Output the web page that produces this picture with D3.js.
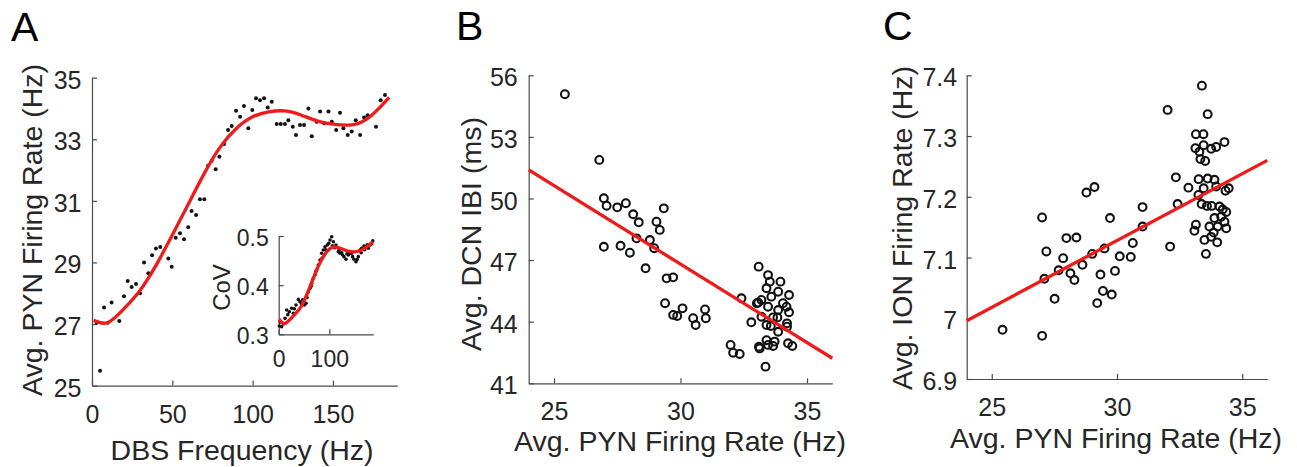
<!DOCTYPE html>
<html>
<head>
<meta charset="utf-8">
<script src="https://cdn.jsdelivr.net/npm/d3@7"></script>
<style>
  html, body { margin: 0; padding: 0; background: #fff; }
  svg { display: block; font-family: "Liberation Sans", Arial, sans-serif; }
</style>
</head>
<body>
<svg id="fig" width="1297" height="467"></svg>
<script>
// ---- data ----
// Panel A: DBS frequency (Hz) vs avg PYN firing rate (Hz)
const dbsPoints = [
  [2.9,27.04],[5,25.48],[7.5,27.54],[9.8,27.04],[12.2,27.7],[17,27.1],[19.9,27.9],[22.2,28.4],
  [24.7,28.2],[27.4,28.3],[29.9,28.0],[32.4,29.0],[35.1,28.65],[37.4,29.23],[39.8,29.45],[42.5,29.5],
  [47.5,29.13],[49.6,28.86],[52.1,29.8],[54.8,29.95],[57.3,29.75],[59.9,30.14],[62,30.67],[64.8,30.54],
  [67.2,31.05],[69.9,31.05],[72.2,32.14],[74.5,32.3],[77,32.03],[79.3,32.43],[82.2,32.85],[84.7,33.3],
  [87,33.43],[89.7,33.93],[92.2,33.73],[94.6,34.08],[97.3,33.36],[99.8,33.95],[102.1,34.33],[104.6,34.27],
  [107.1,34.33],[109.4,34.03],[111.9,34.22],[115,33.5],[117.5,33.5],[120.1,33.5],[122.2,33.62],[125,33.41],
  [127,33.14],[129.5,33.46],[132,33.46],[134.7,34.0],[136.8,33.1],[139.9,33.57],[142,33.9],[144.5,33.52],
  [147.2,33.9],[149.3,33.57],[152,33.3],[154.4,33.86],[156.5,33.36],[159.2,33.14],[161.7,33.25],[164.2,33.62],
  [166.9,33.14],[169.4,33.71],[171.6,33.78],[176.8,33.41],[179.7,34.27],[182.4,34.44]
];
const dbsFit = [
  [1,27.12],[10,27.05],[20,27.5],[30,28.1],[40,28.92],[50,29.89],[60,30.9],[70,31.9],[80,32.76],
  [90,33.36],[100,33.73],[110,33.89],[120,33.92],[130,33.79],[140,33.6],[150,33.49],[160,33.46],
  [170,33.62],[180,34.08],[185,34.36]
];
const xTicksA = [0, 50, 100, 150];
const yTicksA = [25, 27, 29, 31, 33, 35];

// Panel A inset: DBS frequency vs CoV
const covPoints = [
  [1.2,0.317],[3,0.325],[5.8,0.3155],[9.2,0.321],[12.5,0.3325],[15.8,0.3494],[18,0.34],[21,0.346],
  [25.6,0.3529],[28.9,0.3427],[31,0.352],[34.2,0.3596],[38.8,0.371],[42.1,0.3663],[45,0.362],[47.4,0.37],
  [50.7,0.3596],[54,0.363],[56,0.375],[58.6,0.3867],[61.9,0.3935],[64,0.398],[65.2,0.4037],[68.4,0.414],
  [71.7,0.4206],[73,0.427],[75,0.4308],[78.3,0.441],[81.6,0.4512],[84.9,0.4648],[86,0.455],[88.2,0.4715],
  [91.5,0.4782],[93,0.472],[96.1,0.4817],[99,0.485],[101.4,0.4919],[104.7,0.4986],[106,0.48],[108,0.4884],
  [111,0.476],[113.2,0.4817],[117.8,0.468],[119,0.471],[121.1,0.4648],[124.4,0.466],[126,0.462],[129,0.458],
  [133,0.4526],[135,0.464],[137.6,0.4613],[140.9,0.4648],[144.2,0.4648],[146,0.458],[148.8,0.4526],
  [152.8,0.4477],[155,0.452],[157.4,0.458],[160.7,0.4715],[163,0.466],[164,0.475],[168.6,0.4797],
  [170,0.472],[172.5,0.4782],[175,0.482],[177.1,0.475],[180.4,0.4817],[183.7,0.4837],[186,0.49]
];
const covFit = [
  [1,0.3305],[12.5,0.322],[29,0.3375],[45,0.3576],[62,0.397],[78,0.4376],[95,0.468],[111,0.478],
  [128,0.4725],[144,0.468],[161,0.470],[174,0.478],[186,0.488]
];
const xTicksInset = [0, 100];
const yTicksInset = [0.3, 0.4, 0.5];

// Panel B: avg PYN firing rate vs avg DCN IBI (ms)
const dcnPoints = [
  [25.43,55.08],[26.79,51.88],[26.97,50.01],[27.08,49.65],[26.97,47.65],[27.5,49.57],[27.84,49.77],
  [27.63,47.70],[28.0,47.36],[28.13,49.23],[28.35,48.84],[28.26,48.06],[28.62,46.6],[28.79,47.98],
  [28.96,47.58],[29.05,48.87],[29.18,48.47],[29.34,49.52],[29.45,46.11],[29.71,46.16],[29.39,44.9],
  [29.71,44.33],[29.87,44.28],[30.08,44.65],[30.5,44.17],[30.6,43.84],[30.97,44.6],[31.0,44.17],
  [31.98,42.87],[32.08,42.49],[32.34,42.43],[32.41,45.14],[32.8,43.97],[33.09,46.68],[33.02,44.9],
  [33.13,42.7],[33.36,41.81],[33.46,46.27],[33.53,45.95],[33.95,45.95],[33.4,45.63],[33.86,45.46],
  [34.29,45.3],[33.59,45.22],[33.2,45.06],[34.05,44.9],[33.07,44.93],[33.46,44.73],[34.19,44.73],
  [33.86,44.57],[34.29,44.46],[33.2,44.24],[33.66,44.21],[33.83,44.21],[33.4,43.84],[33.57,43.79],
  [34.21,43.92],[34.21,43.76],[33.86,43.51],[33.4,43.1],[33.72,43.03],[33.1,42.78],[33.46,42.87],
  [33.66,42.82],[34.25,42.95],[34.42,42.82]
];
const dcnFit = [[24, 51.39], [36, 42.22]];
const yTicksB = [41, 44, 47, 50, 53, 56];

// Panel C: avg PYN firing rate vs avg ION firing rate (Hz)
const ionPoints = [
  [25.43,6.981],[27.01,6.971],[27.01,7.166],[27.18,7.110],[27.1,7.065],[27.51,7.032],[27.67,7.079],
  [27.85,7.099],[27.98,7.132],[28.38,7.133],[28.14,7.074],[28.3,7.063],[28.62,7.088],[28.78,7.207],
  [29.1,7.216],[29.01,7.106],[29.5,7.115],[29.72,7.165],[29.34,7.072],[29.21,7.025],[29.44,7.045],
  [29.79,7.039],[29.92,7.078],[30.11,7.102],[30.55,7.101],[30.63,7.124],[31.02,7.183],[31.02,7.151],
  [32.02,7.343],[32.12,7.118],[32.35,7.232],[32.42,7.188],[32.85,7.215],[33.39,7.383],[33.62,7.336],
  [33.15,7.303],[33.45,7.303],[33.13,7.28],[33.29,7.274],[33.46,7.285],[33.76,7.279],[33.96,7.282],
  [34.29,7.29],[33.33,7.262],[33.52,7.259],[33.26,7.229],[33.62,7.23],[33.89,7.228],[33.46,7.214],
  [33.25,7.203],[33.96,7.217],[34.33,7.21],[34.46,7.214],[33.38,7.188],[33.59,7.185],[33.78,7.185],
  [34.09,7.184],[34.22,7.179],[34.36,7.175],[33.89,7.165],[34.16,7.167],[34.29,7.159],[33.15,7.154],
  [33.69,7.151],[34.02,7.151],[34.36,7.148],[33.09,7.144],[33.76,7.134],[33.49,7.129],[34.0,7.125],
  [33.55,7.106],[33.86,7.141]
];
const ionFit = [[24, 6.996], [36, 7.26]];
const yTicksC = [6.9, 7, 7.1, 7.2, 7.3, 7.4];

const xTicksPyn = [25, 30, 35];

// ---- drawing ----
const RED = "#ef1a1a";
const AXIS = "#4a4a4a";
const TEXT = "#262626";
const svg = d3.select("#fig");
svg.append("rect").attr("width", 1297).attr("height", 467).attr("fill", "#fff");

// draws MATLAB-style left/bottom axes with inward ticks
function drawAxes(g, x, y, xt, yt, fontSize, xPad, yPad) {
  const xa = g.append("g")
    .attr("transform", `translate(0,${y.range()[0]})`)
    .call(d3.axisBottom(x).tickValues(xt).tickSizeInner(-5).tickSizeOuter(0).tickPadding(xPad).tickFormat(d3.format("")));
  const ya = g.append("g")
    .attr("transform", `translate(${x.range()[0]},0)`)
    .call(d3.axisLeft(y).tickValues(yt).tickSizeInner(-5).tickSizeOuter(0).tickPadding(yPad).tickFormat(d => String(d)));
  [xa, ya].forEach(a => {
    a.select(".domain").attr("stroke", AXIS).attr("stroke-width", 1.2);
    a.selectAll(".tick line").attr("stroke", AXIS).attr("stroke-width", 1.2);
    a.selectAll("text").attr("fill", TEXT).style("font-size", fontSize + "px")
      .style("font-family", '"Liberation Sans", Arial, sans-serif');
  });
  ya.selectAll("text").attr("dy", "0.42em");
}

function panelLetter(txt, x, y) {
  svg.append("text").attr("x", x).attr("y", y)
    .style("font-family", '"Liberation Sans", Arial, sans-serif')
    .style("font-size", "41px").attr("fill", "#000").text(txt);
}

function yLabel(txt, bx, cy) {
  svg.append("text").attr("transform", `translate(${bx},${cy}) rotate(-90)`)
    .attr("text-anchor", "middle").style("font-size", "28.5px").attr("fill", TEXT).text(txt);
}

function xLabel(txt, cx, by) {
  svg.append("text").attr("x", cx).attr("y", by)
    .attr("text-anchor", "middle").style("font-size", "28.5px").attr("fill", TEXT).text(txt);
}

// Panel A
const xA = d3.scaleLinear().domain([0, 190]).range([92, 397.2]);
const yA = d3.scaleLinear().domain([25, 35]).range([385.6, 77.7]);
const gA = svg.append("g");
drawAxes(gA, xA, yA, xTicksA, yTicksA, 25, 19.2, 10.5);
gA.append("g").selectAll("circle").data(dbsPoints).join("circle")
  .attr("cx", d => xA(d[0])).attr("cy", d => yA(d[1])).attr("r", 2).attr("fill", "#111");
gA.append("path").datum(dbsFit)
  .attr("d", d3.line().x(d => xA(d[0])).y(d => yA(d[1])).curve(d3.curveNatural))
  .attr("fill", "none").attr("stroke", RED).attr("stroke-width", 3.3);
panelLetter("A", 11, 41);
yLabel("Avg. PYN Firing Rate (Hz)", 42, 230);
xLabel("DBS Frequency (Hz)", 242, 460);

// Inset
const xI = d3.scaleLinear().domain([0, 187]).range([278.7, 373.3]);
const yI = d3.scaleLinear().domain([0.3, 0.5]).range([334.3, 236]);
const gI = svg.append("g");
drawAxes(gI, xI, yI, xTicksInset, yTicksInset, 23, 16, 10);
gI.append("g").selectAll("circle").data(covPoints).join("circle")
  .attr("cx", d => xI(d[0])).attr("cy", d => yI(d[1])).attr("r", 1.8).attr("fill", "#111");
gI.append("path").datum(covFit)
  .attr("d", d3.line().x(d => xI(d[0])).y(d => yI(d[1])).curve(d3.curveNatural))
  .attr("fill", "none").attr("stroke", RED).attr("stroke-width", 3.3);
svg.append("text").attr("transform", "translate(230,287.5) rotate(-90)")
  .attr("text-anchor", "middle").style("font-size", "24px").attr("fill", TEXT).text("CoV");

// Panel B
const xB = d3.scaleLinear().domain([24, 36]).range([528.7, 832.3]);
const yB = d3.scaleLinear().domain([41, 56]).range([383.3, 75.3]);
const gB = svg.append("g");
drawAxes(gB, xB, yB, xTicksPyn, yTicksB, 25, 19.2, 11);
gB.append("g").selectAll("circle").data(dcnPoints).join("circle")
  .attr("cx", d => xB(d[0])).attr("cy", d => yB(d[1])).attr("r", 3.9)
  .attr("fill", "none").attr("stroke", "#111").attr("stroke-width", 2.1);
gB.append("path").datum(dcnFit)
  .attr("d", d3.line().x(d => xB(d[0])).y(d => yB(d[1])))
  .attr("fill", "none").attr("stroke", RED).attr("stroke-width", 3.3);
panelLetter("B", 456, 40);
yLabel("Avg. DCN IBI (ms)", 481, 234);
xLabel("Avg. PYN Firing Rate (Hz)", 680, 451);

// Panel C
const xC = d3.scaleLinear().domain([24, 36]).range([966.7, 1267.3]);
const yC = d3.scaleLinear().domain([6.9, 7.4]).range([379, 75.3]);
const gC = svg.append("g");
drawAxes(gC, xC, yC, xTicksPyn, yTicksC, 25, 19.5, 9.5);
gC.append("g").selectAll("circle").data(ionPoints).join("circle")
  .attr("cx", d => xC(d[0])).attr("cy", d => yC(d[1])).attr("r", 3.9)
  .attr("fill", "none").attr("stroke", "#111").attr("stroke-width", 2.1);
gC.append("path").datum(ionFit)
  .attr("d", d3.line().x(d => xC(d[0])).y(d => yC(d[1])))
  .attr("fill", "none").attr("stroke", RED).attr("stroke-width", 3.3);
panelLetter("C", 883, 40);
yLabel("Avg. ION Firing Rate (Hz)", 912, 228);
xLabel("Avg. PYN Firing Rate (Hz)", 1116, 448);
</script>
</body>
</html>
